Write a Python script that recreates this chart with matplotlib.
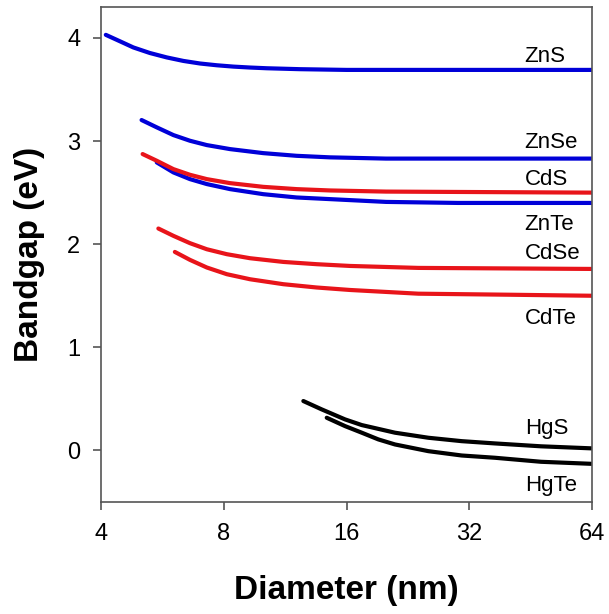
import numpy as np
import matplotlib.pyplot as plt

# diameters (nm) and bandgaps (eV)
d_zns = [4.11, 4.46, 4.80, 5.27, 5.80, 6.37, 7.0, 7.69, 8.45, 9.28, 10.2, 12.3, 16, 32, 64]
e_zns = [4.03, 3.966, 3.908, 3.854, 3.811, 3.777, 3.752, 3.735, 3.722, 3.713, 3.706, 3.697, 3.69, 3.69, 3.69]

d_znse = [5.03, 5.48, 6.02, 6.61, 7.27, 8.29, 10.0, 12.07, 14.58, 20, 64]
e_znse = [3.204, 3.133, 3.058, 3.003, 2.961, 2.922, 2.883, 2.857, 2.842, 2.83, 2.83]

d_cds = [5.06, 5.48, 6.02, 6.61, 7.27, 8.29, 10.0, 12.07, 14.58, 20, 64]
e_cds = [2.874, 2.809, 2.728, 2.673, 2.631, 2.592, 2.556, 2.534, 2.521, 2.51, 2.50]

d_znte = [5.48, 6.02, 6.61, 7.27, 8.29, 10.0, 12.07, 14.58, 20, 30, 64]
e_znte = [2.793, 2.696, 2.631, 2.583, 2.534, 2.485, 2.453, 2.437, 2.41, 2.40, 2.40]

d_cdse = [5.53, 6.02, 6.61, 7.27, 8.14, 9.28, 11.2, 13.52, 16.32, 24, 64]
e_cdse = [2.152, 2.081, 2.010, 1.951, 1.903, 1.864, 1.828, 1.806, 1.789, 1.77, 1.76]

d_cdte = [6.07, 6.61, 7.27, 8.14, 9.28, 11.2, 13.52, 16.32, 24, 40, 64]
e_cdte = [1.925, 1.848, 1.774, 1.709, 1.660, 1.612, 1.580, 1.556, 1.52, 1.51, 1.50]

d_hgs = [12.54, 13.91, 15.87, 17.44, 21.04, 25.4, 30.66, 37.0, 48, 64]
e_hgs = [0.479, 0.398, 0.301, 0.246, 0.172, 0.123, 0.090, 0.068, 0.04, 0.02]

d_hgte = [14.31, 15.87, 17.44, 19.15, 21.04, 25.4, 30.66, 37.0, 48, 64]
e_hgte = [0.317, 0.236, 0.172, 0.107, 0.058, -0.007, -0.049, -0.071, -0.11, -0.13]

# label text and baseline height (eV)
labels = ["ZnS", "ZnSe", "CdS", "ZnTe", "CdSe", "CdTe", "HgS", "HgTe"]
label_y = [3.77, 2.93, 2.57, 2.14, 1.86, 1.23, 0.16, -0.39]

blue = "#0000d8"
red = "#e8141a"
black = "#000000"

plt.rcParams['font.family'] = ['Liberation Sans', 'DejaVu Sans']

fig = plt.figure(figsize=(6.09, 6.14), dpi=100)
ax = fig.add_axes([101 / 609, 112 / 614, 491 / 609, 495 / 614])

curves = [
    (d_zns, e_zns, blue),
    (d_znse, e_znse, blue),
    (d_znte, e_znte, blue),
    (d_cds, e_cds, red),
    (d_cdse, e_cdse, red),
    (d_cdte, e_cdte, red),
    (d_hgs, e_hgs, black),
    (d_hgte, e_hgte, black),
]
for d, e, c in curves:
    ax.plot(d, e, color=c, lw=3, solid_capstyle='round', solid_joinstyle='round')

for name, y in zip(labels, label_y):
    ax.text(0.863, y, name, transform=ax.get_yaxis_transform(),
            ha='left', va='baseline', fontsize=16)

ax.set_xscale('log', base=2)
ax.set_xlim(4, 64)
ax.set_ylim(-0.5, 4.3)
ax.set_xticks([4, 8, 16, 32, 64])
ax.set_xticklabels(["4", "8", "16", "32", "64"])
ax.minorticks_off()
ax.set_yticks([0, 1, 2, 3, 4])

for s in ax.spines.values():
    s.set_color('#555555')
    s.set_linewidth(1.2)
ax.tick_params(direction='out', length=6, width=1.2, color='#555555',
               labelsize=17, pad=9)

ax.set_xlabel("Diameter (nm)", fontsize=24, fontweight='bold', labelpad=22)
ax.set_ylabel("Bandgap (eV)", fontsize=24, fontweight='bold', labelpad=16)

fig.savefig("out.png", dpi=100)
